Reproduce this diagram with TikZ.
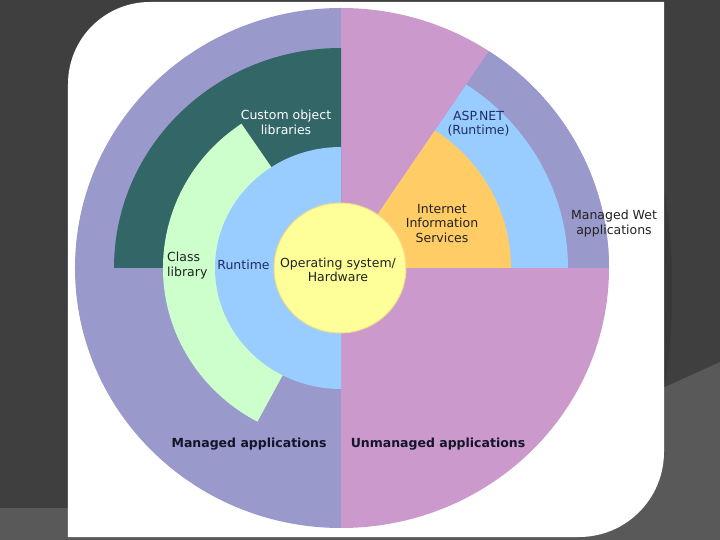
\documentclass[tikz,border=0pt]{standalone}
\usepackage{fontspec}
\setmainfont{DejaVu Sans}
\definecolor{slidebg}{HTML}{3F3F3F}
\definecolor{slidelite}{HTML}{595959}
\definecolor{slidedark}{HTML}{383838}
\definecolor{managed}{HTML}{9999CC}
\definecolor{unmanaged}{HTML}{CC99CC}
\definecolor{custom}{HTML}{336666}
\definecolor{classlib}{HTML}{CCFFCC}
\definecolor{runtime}{HTML}{99CCFF}
\definecolor{iis}{HTML}{FFCC66}
\definecolor{osyellow}{HTML}{FFFF99}
\definecolor{osedge}{HTML}{F2DC8C}
\definecolor{navytxt}{HTML}{1F2D66}
\definecolor{darktxt}{HTML}{222222}
\definecolor{hdrtxt}{HTML}{14142A}
\begin{document}
\begin{tikzpicture}[x=1pt, y=1pt,
  every node/.style={font=\fontsize{12.5}{14.5}\selectfont, inner sep=0pt, align=center},
  txt/.style={text=#1},
  hdr/.style={font=\fontsize{12.5}{14.5}\selectfont\bfseries, text=hdrtxt}]
  \useasboundingbox (-341,-272) rectangle (379,268);
  % slide behind the picture
  \fill[slidebg] (-341,-272) rectangle (379,268);
  \fill[slidelite] (-341,-240) -- (-273,-240) -- (324,-119) -- (379,-94) -- (379,-272) -- (-341,-272) -- cycle;
  \fill[slidedark] (323,78) .. controls (334,20) and (334,-60) .. (323,-119) -- cycle;
  \fill[white] (-273,-269) -- (-273,184) arc[start angle=180, end angle=90, radius=82] -- (323,266) -- (323,-184) arc[start angle=0, end angle=-90, radius=85] -- cycle;
  % outer ring
  \fill[managed] (0,0) -- (0,260) arc[start angle=90, end angle=270, x radius=266, y radius=260] -- cycle;
  \fill[unmanaged] (0,0) -- (0,-260) arc[start angle=-90, end angle=90, x radius=268, y radius=260] -- cycle;
  \fill[managed] (0,0) -- (268,0) arc[start angle=0, end angle=56.5, x radius=268, y radius=260] -- cycle;
  % middle rings
  \fill[custom] (0,0) -- (0,220) arc[start angle=90, end angle=180, x radius=227, y radius=220] -- cycle;
  \fill[runtime] (0,0) -- (227,0) arc[start angle=0, end angle=56.5, x radius=227, y radius=220] -- cycle;
  \fill[classlib] (0,0) -- ({178*cos(124)},{174*sin(124)}) arc[start angle=124, end angle=242, x radius=178, y radius=174] -- cycle;
  \fill[runtime] (0,0) -- (0,121) arc[start angle=90, end angle=270, x radius=126, y radius=121] -- cycle;
  \fill[iis] (0,0) -- (170,0) arc[start angle=0, end angle=56.5, x radius=170, y radius=165] -- cycle;
  % core
  \filldraw[fill=osyellow, draw=osedge, line width=1pt] (-1,0) ellipse [x radius=66, y radius=65];
  % labels
  \node[txt=white] (customlib) at (-55,145.5) {Custom object\\libraries};
  \node[txt=darktxt, anchor=west, align=left] (classlib) at (-174,2.5) {Class\\library};
  \node[txt=navytxt] (rt) at (-97.5,3) {Runtime};
  \node[txt=darktxt] (os) at (-3,-2) {Operating system/\\Hardware};
  \node[txt=navytxt] (asp) at (137.5,144.5) {ASP.NET\\(Runtime)};
  \node[txt=darktxt] (iisl) at (101,44.5) {Internet\\Information\\Services};
  \node[txt=darktxt] (web) at (273,44.3) {Managed Wet\\applications};
  \node[hdr] (managedapps) at (-92,-176) {Managed applications};
  \node[hdr] (unmanagedapps) at (97,-176) {Unmanaged applications};
\end{tikzpicture}
\end{document}
